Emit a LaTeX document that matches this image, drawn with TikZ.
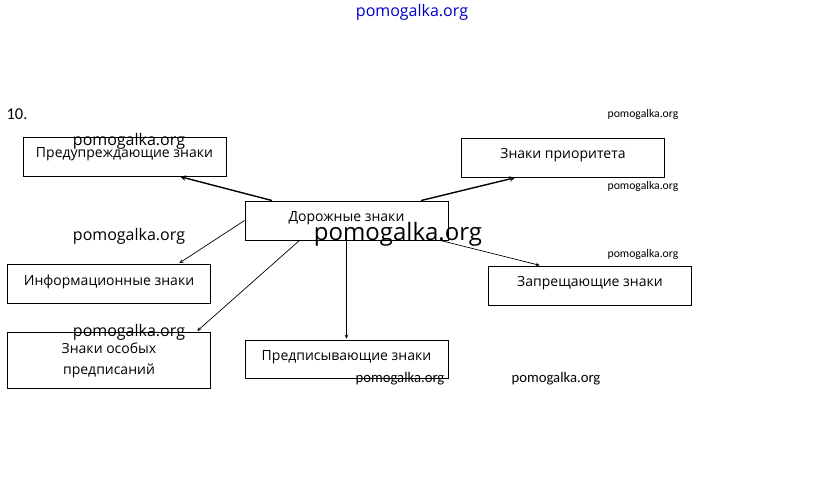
\documentclass[tikz,border=0pt]{standalone}
\usepackage{fontspec}
\setmainfont{Open Sans}
\newfontfamily\smallfont{Carlito}
\usetikzlibrary{positioning}

\begin{document}
\begin{tikzpicture}[x=1pt,y=-1pt,->,>=stealth,shorten >=1pt,
    sign box/.style={draw,line width=0.9pt,minimum width=203pt,minimum height=39pt,inner sep=0pt,align=center,font=\fontsize{14}{21}\selectfont},
    one line/.style={sign box,text height=10pt,text depth=7pt},
    wm text/.style={inner sep=0pt,font=\fontsize{16}{18}\selectfont},
    wm small/.style={inner sep=0pt,font=\smallfont\fontsize{11.7}{14}\selectfont}]

    \useasboundingbox (0,0) rectangle (823,500);

    % boxes
    \node[one line] (dor)   at (346.5,220.5) {Дорожные знаки};
    \node[one line] (warn)  at (124.5,156.5) {Предупреждающие знаки};
    \node[one line] (prio)  at (563,157.5)   {Знаки приоритета};
    \node[one line] (info)  at (109,283.5)   {Информационные знаки};
    \node[one line] (forb)  at (590,285.5)   {Запрещающие знаки};
    \node[sign box,minimum height=56pt] (spec) at (109,360) {Знаки особых\\предписаний};
    \node[one line,minimum height=38pt] (presc) at (346.5,359) {Предписывающие знаки};

    % arrows
    \path[line width=1.4pt]
        (dor.165) edge (warn.-20)
        (dor.15)  edge (prio.203)
    ;
    \path[line width=0.7pt]
        (dor.west)  edge (info.16)
        (dor.203)   edge (spec.18)
        (dor.south) edge (presc.north)
        (dor.-12)   edge (forb.158)
    ;

    % labels
    \node[inner sep=0pt,font=\smallfont\fontsize{16.5}{18}\selectfont] (num) at (17,114) {10.};
    \node[wm text,text=blue!80!black] (wm0) at (412,12) {pomogalka.org};
    \node[wm text] (wm1) at (129,141) {pomogalka.org};
    \node[wm text] (wm2) at (129,236) {pomogalka.org};
    \node[wm text] (wm3) at (129,332) {pomogalka.org};
    \node[wm text,font=\fontsize{24}{26}\selectfont] (wm4) at (398,234) {pomogalka.org};
    \node[wm small] (wm5) at (643,114) {pomogalka.org};
    \node[wm small] (wm6) at (643,186) {pomogalka.org};
    \node[wm small] (wm7) at (643,254) {pomogalka.org};
    \node[wm small,font=\smallfont\fontsize{14.7}{17}\selectfont] (wm8) at (400,379) {pomogalka.org};
    \node[wm small,font=\smallfont\fontsize{14.7}{17}\selectfont] (wm9) at (556,379) {pomogalka.org};

\end{tikzpicture}
\end{document}
